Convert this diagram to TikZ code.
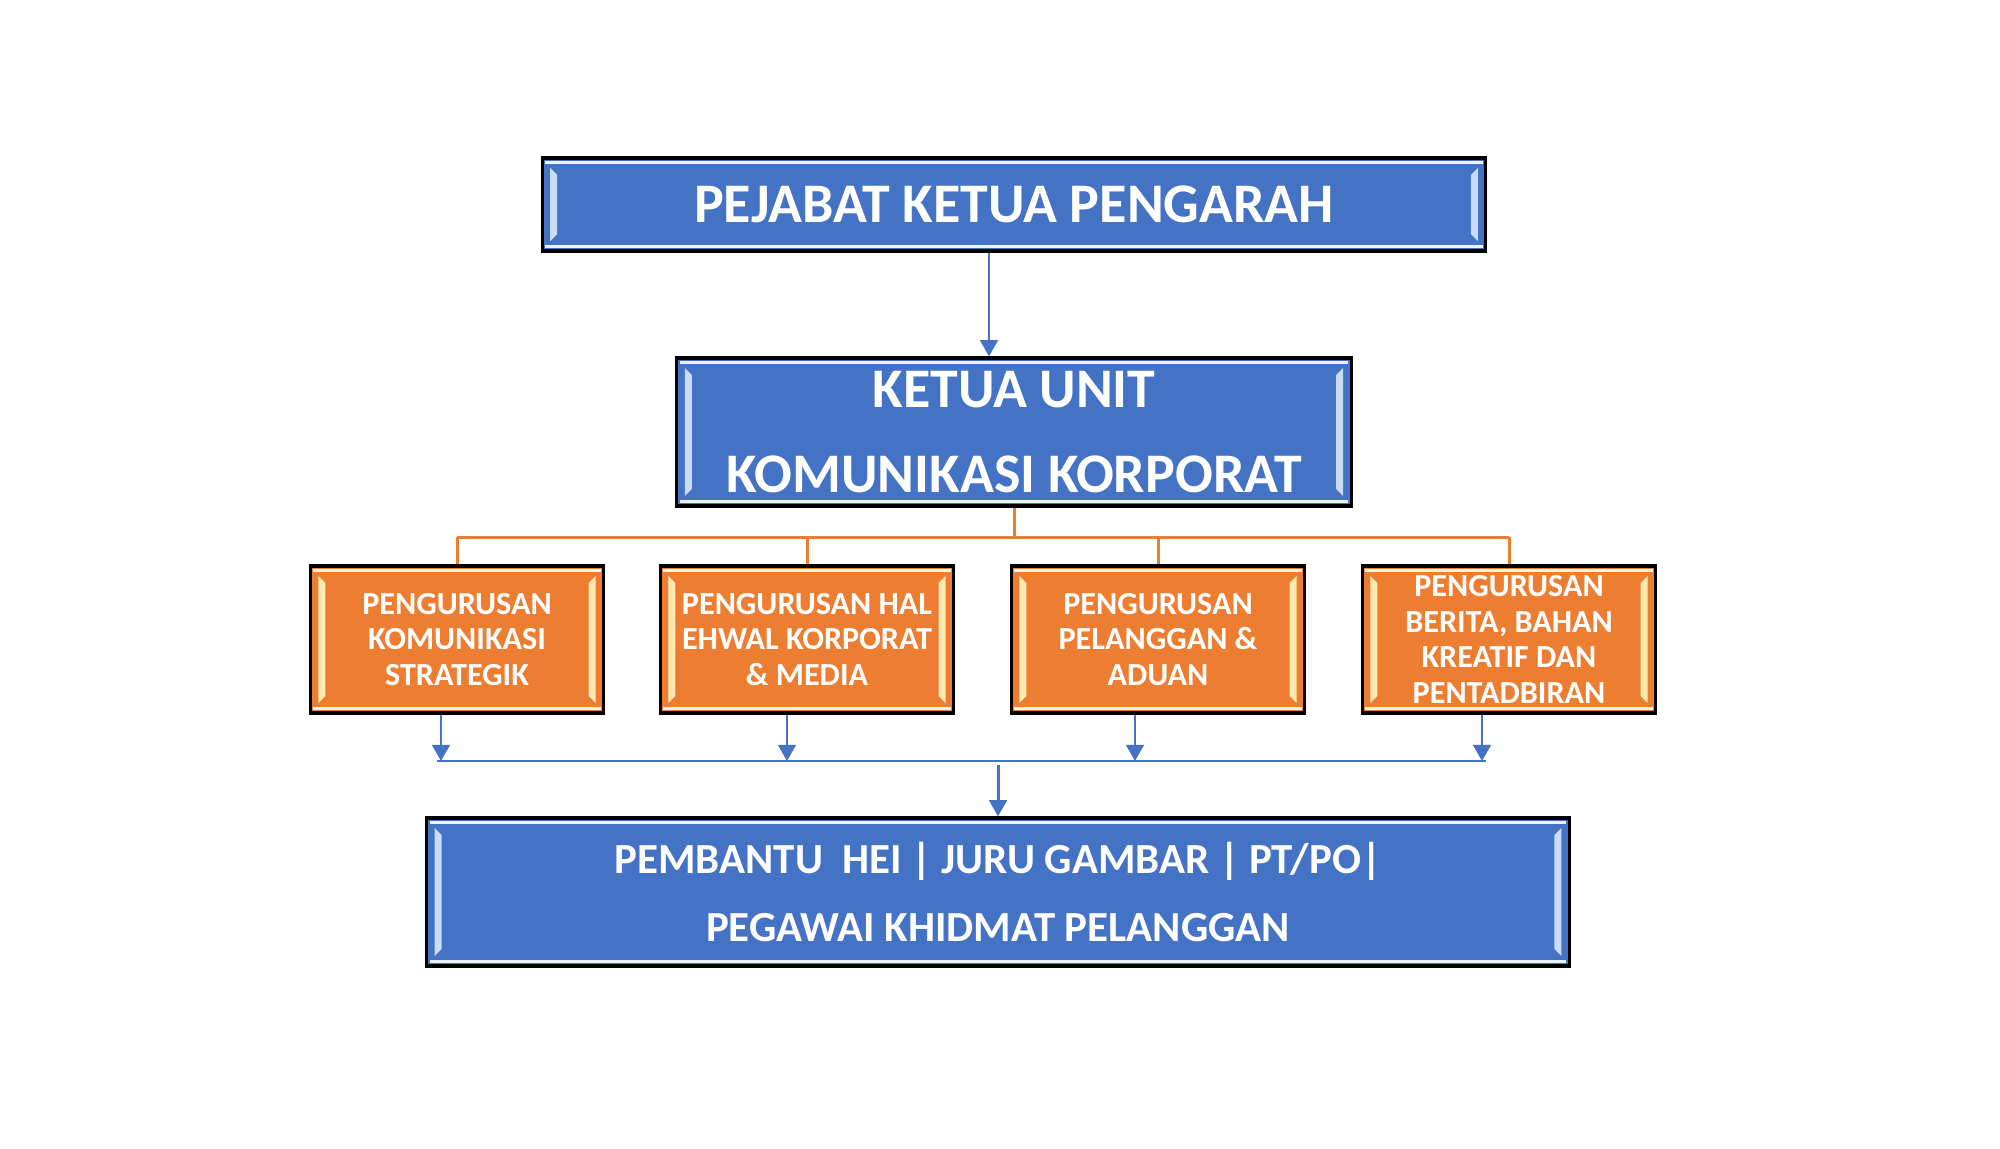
\documentclass[tikz,border=0pt]{standalone}
\usepackage{fontspec}
\setmainfont{Carlito}
\usepackage{tikz}
\usetikzlibrary{arrows.meta}
\definecolor{boxblue}{HTML}{4472C4}
\definecolor{boxorange}{HTML}{ED7D31}
\definecolor{lightblue}{HTML}{C9DBF5}
\definecolor{lightorange}{HTML}{FFE9B0}

\begin{document}
\begin{tikzpicture}[x=0.01cm,y=-0.01cm,
  bevel/.style={path picture={
    \fill[#1!35] ([shift={(0.03cm,-0.03cm)}]path picture bounding box.north west) rectangle ([shift={(-0.03cm,-0.06cm)}]path picture bounding box.north east);
    \fill[#1!35] ([shift={(0.03cm,0.03cm)}]path picture bounding box.south west) rectangle ([shift={(-0.03cm,0.06cm)}]path picture bounding box.south east);
    \fill[#1] ([shift={(0.08cm,-0.10cm)}]path picture bounding box.north west) -- ([shift={(0.15cm,-0.17cm)}]path picture bounding box.north west) -- ([shift={(0.15cm,0.17cm)}]path picture bounding box.south west) -- ([shift={(0.08cm,0.10cm)}]path picture bounding box.south west) -- cycle;
    \fill[#1] ([shift={(-0.08cm,-0.10cm)}]path picture bounding box.north east) -- ([shift={(-0.15cm,-0.17cm)}]path picture bounding box.north east) -- ([shift={(-0.15cm,0.17cm)}]path picture bounding box.south east) -- ([shift={(-0.08cm,0.10cm)}]path picture bounding box.south east) -- cycle;
  }},
  bluebox/.style={draw=black,line width=0.9pt,fill=boxblue,text=white,align=center,inner sep=0pt,bevel=lightblue,font=\bfseries},
  orangebox/.style={draw=black,line width=0.9pt,fill=boxorange,text=white,align=center,inner sep=0pt,bevel=lightorange,
    minimum width=2.93cm,minimum height=1.47cm,font=\fontsize{9.15}{10.2}\selectfont\bfseries},
  orangeline/.style={draw=boxorange,line width=0.85pt},
  bluearrow/.style={draw=boxblue,line width=0.85pt,-{Triangle[width=5pt,length=4.6pt]}},
  blueline/.style={draw=boxblue,line width=0.5pt}]
\useasboundingbox (0,0) rectangle (2000,1148);

\node[bluebox,minimum width=9.43cm,minimum height=0.93cm,font=\fontsize{15.9}{18}\selectfont\bfseries] (pjk) at (1014,204.5) {PEJABAT KETUA PENGARAH};
\node[bluebox,minimum width=6.74cm,minimum height=1.48cm,font=\fontsize{15.9}{24.2}\selectfont\bfseries] (kuu) at (1014,432) {KETUA UNIT\\KOMUNIKASI KORPORAT};

\node[orangebox] (p1) at (457,639.5) {PENGURUSAN\\KOMUNIKASI\\STRATEGIK};
\node[orangebox] (p2) at (807,639.5) {PENGURUSAN HAL\\EHWAL KORPORAT\\\& MEDIA};
\node[orangebox] (p3) at (1158,639.5) {PENGURUSAN\\PELANGGAN \&\\ADUAN};
\node[orangebox] (p4) at (1509,639.5) {PENGURUSAN\\BERITA, BAHAN\\KREATIF DAN\\PENTADBIRAN};

\node[bluebox,minimum width=11.42cm,minimum height=1.48cm,font=\fontsize{12.2}{19.3}\selectfont\bfseries] (pkp) at (998,892) {PEMBANTU\ \ HEI | JURU GAMBAR | PT/PO|\\PEGAWAI KHIDMAT PELANGGAN};

\draw[bluearrow] ([xshift=-0.25cm]pjk.south) -- ([xshift=-0.25cm]pjk.south |- kuu.north);

\coordinate (obus) at (0,537);
\draw[orangeline] (kuu.south) -- (kuu.south |- obus);
\draw[orangeline] (p1.north |- obus) -- (p4.north |- obus);
\foreach \i in {1,...,4}
  \draw[orangeline] (p\i.north |- obus) -- (p\i.north);

\coordinate (bbus) at (0,761);
\foreach \i/\s in {1/-0.16,2/-0.20,3/-0.23,4/-0.27}
  \draw[bluearrow] ([xshift=\s cm]p\i.south) -- ([xshift=\s cm]p\i.south |- bbus);
\draw[blueline] ([xshift=-0.2cm]p1.south |- bbus) -- ([xshift=-0.23cm]p4.south |- bbus);
\draw[bluearrow] ([yshift=-0.04cm]pkp.north |- bbus) -- (pkp.north);
\end{tikzpicture}
\end{document}
